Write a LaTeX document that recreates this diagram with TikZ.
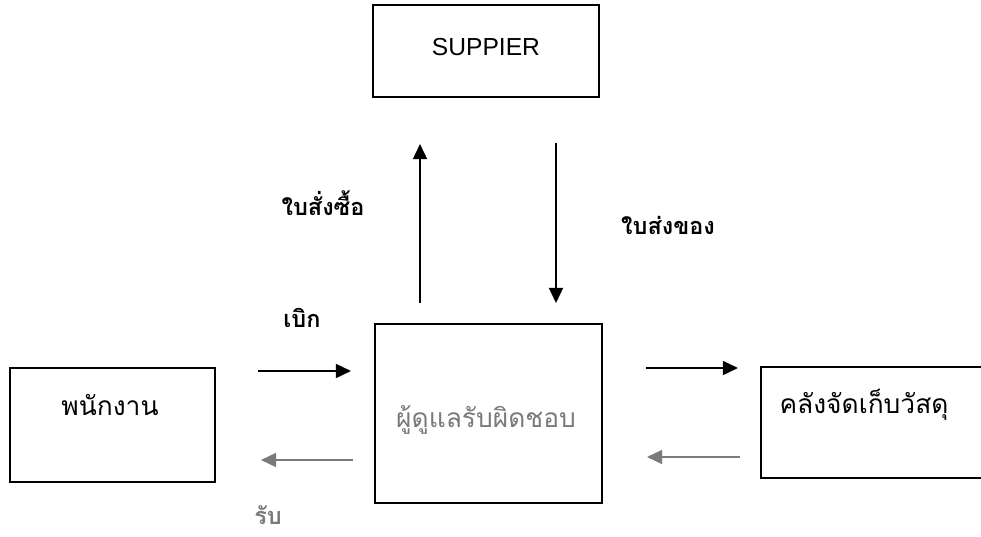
\documentclass[tikz,border=0pt]{standalone}
\usepackage{fontspec}
\setmainfont{Liberation Sans}
\newfontfamily\thai[Script=Thai]{Loma}
\usetikzlibrary{arrows.meta}
\definecolor{scangray}{HTML}{7A7A7A}
\begin{document}
\begin{tikzpicture}[x=0.03cm,y=-0.03cm,
  box/.style={draw,line width=1.2pt,inner sep=0pt},
  boxtext/.style={font=\thai\fontsize{22.5}{26}\selectfont,inner sep=0pt},
  lbl/.style={font=\thai\bfseries\fontsize{20}{24}\selectfont,inner sep=0pt},
  arr/.style={line width=1.7pt,-{Triangle[length=13pt,width=12pt]}},
  garr/.style={arr,draw=scangray,-{Triangle[length=13pt,width=12pt,fill=scangray]}}]
\useasboundingbox (0,0) rectangle (981,537);
\clip (0,0) rectangle (981,537);
\fill[white] (0,0) rectangle (981,537);
% boxes
\node[box,minimum width=6.78cm,minimum height=2.76cm] (sup) at (486,51) {};
\node[box,minimum width=6.15cm,minimum height=3.42cm] (emp) at (112.5,425) {};
\node[box,minimum width=6.81cm,minimum height=5.37cm] (mgr) at (488.5,413.5) {};
\node[box,minimum width=7.5cm,minimum height=3.33cm] (store) at (886,422.5) {};
% box texts
\node[font=\fontsize{21}{24}\selectfont,inner sep=0pt] (suptxt) at (486,47) {SUPPIER};
\node[boxtext] (emptxt) at (110,405) {พนักงาน};
\node[boxtext,text=scangray] (mgrtxt) at (486,420) {ผู้ดูแลรับผิดชอบ};
\node[boxtext] (storetxt) at (864,405) {คลังจัดเก็บวัสดุ};
% arrow ends
\coordinate (a1s) at (258,371); \coordinate (a1e) at (351,371);
\coordinate (a2s) at (353,460); \coordinate (a2e) at (261,460);
\coordinate (a3s) at (646,368); \coordinate (a3e) at (738,368);
\coordinate (a4s) at (740,457); \coordinate (a4e) at (647,457);
\coordinate (ups) at (420,303); \coordinate (upe) at (420,144);
\coordinate (dns) at (556,143); \coordinate (dne) at (556,303);
\draw[arr] (a1s) -- (a1e);
\draw[garr] (a2s) -- (a2e);
\draw[arr] (a3s) -- (a3e);
\draw[garr] (a4s) -- (a4e);
\draw[arr] (ups) -- (upe);
\draw[arr] (dns) -- (dne);
% labels
\node[lbl] (order) at (323,203) {ใบสั่งซื้อ};
\node[lbl] (deliver) at (668,225) {ใบส่งของ};
\node[lbl] (withdraw) at (302,318) {เบิก};
\node[lbl,text=scangray] (receive) at (268,515) {รับ};
\end{tikzpicture}
\end{document}
